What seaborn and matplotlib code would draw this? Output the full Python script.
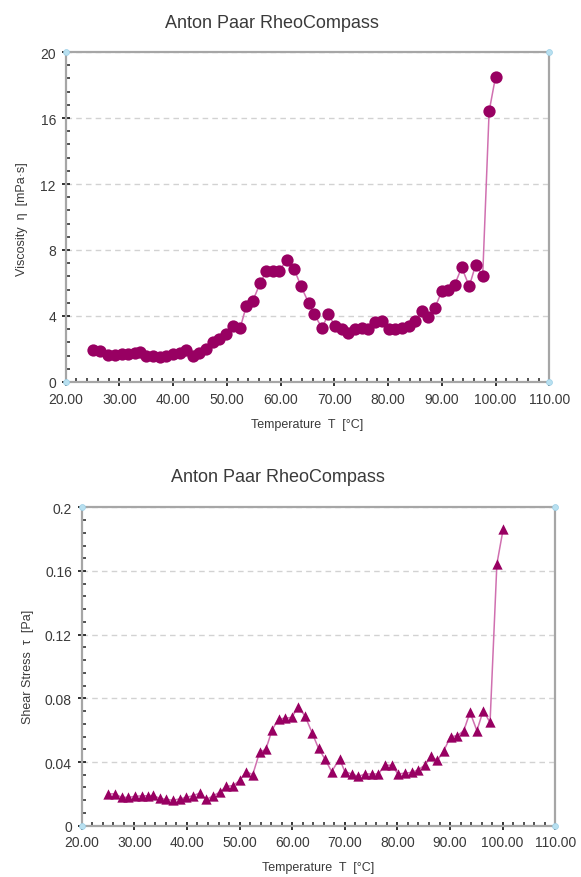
import matplotlib
matplotlib.use("Agg")
import matplotlib.pyplot as plt
from matplotlib.ticker import MultipleLocator, FixedLocator, FuncFormatter
import seaborn as sns
import pandas as pd

# ---- data ----
temp_visc = [25.1, 26.4, 27.8, 29.1, 30.4, 31.6, 32.9, 33.8, 35.0, 36.3, 37.5, 38.7,
             40.0, 41.2, 42.4, 43.7, 44.9, 46.2, 47.4, 48.6, 49.9, 51.1, 52.5, 53.6,
             54.8, 56.2, 57.3, 58.5, 59.7, 61.2, 62.5, 63.8, 65.2, 66.2, 67.7, 68.9,
             70.1, 71.4, 72.6, 73.9, 75.1, 76.3, 77.6, 78.8, 80.1, 81.3, 82.5, 83.8,
             85.0, 86.3, 87.5, 88.7, 90.0, 91.2, 92.4, 93.7, 95.1, 96.3, 97.6, 98.8, 100.0]
viscosity = [1.96, 1.90, 1.62, 1.65, 1.70, 1.72, 1.78, 1.82, 1.60, 1.55, 1.50, 1.60,
             1.70, 1.78, 1.95, 1.60, 1.78, 2.00, 2.40, 2.60, 2.90, 3.40, 3.30, 4.60,
             4.90, 6.00, 6.70, 6.70, 6.75, 7.40, 6.85, 5.80, 4.80, 4.10, 3.30, 4.10,
             3.40, 3.20, 3.00, 3.20, 3.25, 3.20, 3.65, 3.70, 3.20, 3.20, 3.25, 3.40,
             3.70, 4.30, 3.95, 4.50, 5.50, 5.60, 5.90, 6.95, 5.80, 7.10, 6.40, 16.4, 18.5]

temp_stress = [25.0, 26.3, 27.6, 28.8, 30.1, 31.4, 32.6, 33.6, 34.8, 36.1, 37.3, 38.6,
               39.9, 41.1, 42.4, 43.7, 45.0, 46.2, 47.5, 48.8, 50.0, 51.3, 52.5, 53.8,
               55.0, 56.2, 57.4, 58.6, 59.9, 61.1, 62.4, 63.8, 65.0, 66.2, 67.5, 69.0,
               70.0, 71.3, 72.6, 73.9, 75.1, 76.4, 77.6, 78.9, 80.1, 81.4, 82.7, 83.9,
               85.2, 86.3, 87.6, 88.8, 90.1, 91.4, 92.6, 93.8, 95.1, 96.3, 97.6, 98.9, 100.1]
shear_stress = [0.0200, 0.0200, 0.0178, 0.0178, 0.0184, 0.0188, 0.0188, 0.0190, 0.0172, 0.0165, 0.0160, 0.0168,
                0.0178, 0.0188, 0.0204, 0.0165, 0.0188, 0.0210, 0.0247, 0.0252, 0.0284, 0.0340, 0.0320, 0.0461,
                0.0480, 0.0603, 0.0670, 0.0675, 0.0680, 0.0744, 0.0692, 0.0582, 0.0486, 0.0420, 0.0340, 0.0420,
                0.0340, 0.0325, 0.0310, 0.0325, 0.0325, 0.0325, 0.0380, 0.0380, 0.0325, 0.0330, 0.0335, 0.0350,
                0.0380, 0.0435, 0.0410, 0.0470, 0.0560, 0.0565, 0.0597, 0.0712, 0.0597, 0.0723, 0.0649, 0.1644, 0.1864]

x_ticks = [20, 30, 40, 50, 60, 70, 80, 90, 100, 110]
visc_ticks = [0, 4, 8, 12, 16, 20]
stress_ticks = [0, 0.04, 0.08, 0.12, 0.16, 0.2]
stress_tick_labels = ["0", "0.04", "0.08", "0.12", "0.16", "0.2"]

title = "Anton Paar RheoCompass"
xlabel = "Temperature  T  [°C]"
ylabel_top = "Viscosity  η  [mPa·s]"
ylabel_bot = "Shear Stress  τ  [Pa]"

# ---- style ----
sns.set_theme(style="white")
plt.rcParams["font.family"] = ["Liberation Sans", "DejaVu Sans"]

MARK = "#980062"
LINE = "#d070b0"
SPINE = "#a6a6a6"
TXT = "#3a3a3a"

W, H = 581, 878
fig = plt.figure(figsize=(W / 100, H / 100), dpi=100)

def ax_rect(l, r, t, b):
    return [l / W, 1 - b / H, (r - l) / W, (b - t) / H]

ax1 = fig.add_axes(ax_rect(65.7, 549.3, 53, 383))
ax2 = fig.add_axes(ax_rect(81.7, 555.3, 508.3, 826.7))

df1 = pd.DataFrame({"T": temp_visc, "v": viscosity})
df2 = pd.DataFrame({"T": temp_stress, "v": shear_stress})

def style(ax, yticks, ymax, yminor, ylabels):
    ax.set_xlim(20, 110)
    ax.set_ylim(0, ymax)
    ax.xaxis.set_major_locator(FixedLocator(x_ticks))
    ax.xaxis.set_minor_locator(MultipleLocator(2))
    ax.xaxis.set_major_formatter(FuncFormatter(lambda v, p: f"{v:.2f}"))
    ax.yaxis.set_major_locator(FixedLocator(yticks))
    ax.yaxis.set_minor_locator(MultipleLocator(yminor))
    ax.set_yticklabels(ylabels)
    for s in ax.spines.values():
        s.set_color(SPINE)
        s.set_linewidth(1.6)
    ax.tick_params(which="major", direction="inout", length=6, width=1.3,
                   color="#222222", labelsize=10, labelcolor=TXT, pad=4,
                   left=True, bottom=True, right=False, top=False)
    ax.tick_params(which="minor", direction="in", length=3, width=1.1,
                   color="#222222", left=True, bottom=True, right=False, top=False)
    ax.yaxis.grid(True, which="major", linestyle=(0, (4, 3)), color="#d2d2d2", linewidth=1)
    ax.xaxis.grid(False)
    ax.set_axisbelow(True)
    ax.set_xlabel("")
    ax.set_ylabel("")
    ax.scatter([0, 0, 1, 1], [0, 1, 1, 0], transform=ax.transAxes, s=18,
               color="#b8e0f0", edgecolor="#9ccfe6", linewidth=0.5, clip_on=False, zorder=5)

sns.lineplot(data=df1, x="T", y="v", ax=ax1, sort=False, color=LINE, linewidth=1.1, zorder=3)
sns.scatterplot(data=df1, x="T", y="v", ax=ax1, color=MARK, s=78, marker="o",
                edgecolor=MARK, linewidth=0, zorder=4)
style(ax1, visc_ticks, 20, 0.8, [str(t) for t in visc_ticks])

sns.lineplot(data=df2, x="T", y="v", ax=ax2, sort=False, color=LINE, linewidth=1.1, zorder=3)
sns.scatterplot(data=df2, x="T", y="v", ax=ax2, color=MARK, s=55, marker="^",
                edgecolor=MARK, linewidth=0, zorder=4)
style(ax2, stress_ticks, 0.2, 0.008, stress_tick_labels)

# titles and labels
fig.text(272 / W, 1 - 23 / H, title, ha="center", va="center", fontsize=13, color=TXT)
fig.text(278 / W, 1 - 478 / H, title, ha="center", va="center", fontsize=13, color=TXT)
fig.text(307 / W, 1 - 425 / H, xlabel, ha="center", va="center", fontsize=9, color=TXT)
fig.text(318 / W, 1 - 868 / H, xlabel, ha="center", va="center", fontsize=9, color=TXT)
fig.text(22 / W, 1 - 219 / H, ylabel_top, ha="center", va="center", rotation=90, fontsize=9, color=TXT)
fig.text(28 / W, 1 - 667 / H, ylabel_bot, ha="center", va="center", rotation=90, fontsize=9, color=TXT)

fig.savefig("out.png", dpi=100)
